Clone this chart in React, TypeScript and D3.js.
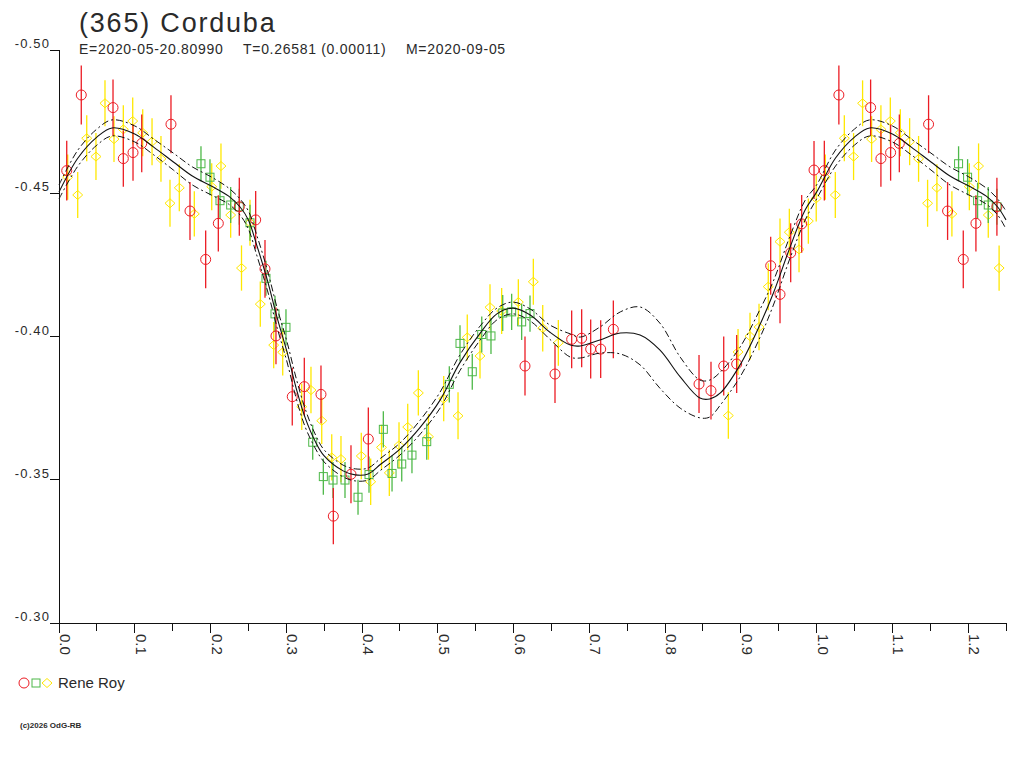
import React, { useEffect, useRef } from 'react';
import * as d3 from 'd3';

const title = '(365) Corduba';
const subtitle = ['E=2020-05-20.80990', 'T=0.26581 (0.00011)', 'M=2020-09-05'];
const observer = 'Rene Roy';
const copyright = '(c)2026 OdG-RB';

const xTicks = [0, 0.05, 0.1, 0.15, 0.2, 0.25, 0.3, 0.35, 0.4, 0.45, 0.5, 0.55, 0.6, 0.65, 0.7, 0.75, 0.8, 0.85, 0.9, 0.95, 1.0, 1.05, 1.1, 1.15, 1.2, 1.25];
const xLabels = [0.0, 0.1, 0.2, 0.3, 0.4, 0.5, 0.6, 0.7, 0.8, 0.9, 1.0, 1.1, 1.2];
const yTicks = [-0.5, -0.45, -0.4, -0.35, -0.3];

// fitted light curve (phase 0..1), with its upper / lower envelope
const fitPhase = [0.000, 0.025, 0.050, 0.070, 0.100, 0.125, 0.151, 0.176, 0.201, 0.224, 0.239, 0.250, 0.261, 0.275, 0.288, 0.301, 0.313, 0.325, 0.338, 0.350, 0.375, 0.391, 0.408, 0.425, 0.450, 0.477, 0.503, 0.529, 0.556, 0.578, 0.599, 0.622, 0.648, 0.675, 0.688, 0.714, 0.741, 0.767, 0.793, 0.820, 0.846, 0.859, 0.873, 0.899, 0.925, 0.943, 0.965, 0.985];
const fitMag = [-0.4504, -0.4623, -0.4696, -0.4728, -0.4707, -0.4661, -0.4609, -0.4560, -0.4525, -0.4490, -0.4452, -0.4407, -0.4319, -0.4197, -0.4065, -0.3946, -0.3820, -0.3716, -0.3635, -0.3583, -0.3531, -0.3517, -0.3520, -0.3555, -0.3607, -0.3684, -0.3778, -0.3908, -0.4012, -0.4079, -0.4099, -0.4075, -0.4015, -0.3970, -0.3967, -0.3988, -0.4012, -0.4005, -0.3953, -0.3859, -0.3785, -0.3782, -0.3803, -0.3901, -0.4040, -0.4152, -0.4312, -0.4442];
const fitUpper = [-0.4529, -0.4651, -0.4724, -0.4756, -0.4735, -0.4689, -0.4640, -0.4592, -0.4557, -0.4518, -0.4480, -0.4438, -0.4354, -0.4232, -0.4099, -0.3981, -0.3855, -0.3747, -0.3660, -0.3604, -0.3551, -0.3538, -0.3541, -0.3576, -0.3628, -0.3709, -0.3806, -0.3935, -0.4037, -0.4099, -0.4120, -0.4096, -0.4040, -0.4009, -0.3998, -0.4033, -0.4086, -0.4103, -0.4047, -0.3928, -0.3848, -0.3848, -0.3876, -0.3963, -0.4093, -0.4194, -0.4351, -0.4476];
const fitLower = [-0.4480, -0.4595, -0.4668, -0.4700, -0.4679, -0.4634, -0.4581, -0.4529, -0.4494, -0.4462, -0.4424, -0.4375, -0.4284, -0.4162, -0.4030, -0.3911, -0.3785, -0.3684, -0.3611, -0.3562, -0.3510, -0.3496, -0.3499, -0.3534, -0.3586, -0.3660, -0.3750, -0.3880, -0.3988, -0.4058, -0.4079, -0.4054, -0.3990, -0.3928, -0.3925, -0.3942, -0.3939, -0.3901, -0.3820, -0.3750, -0.3716, -0.3719, -0.3761, -0.3859, -0.3995, -0.4110, -0.4274, -0.4407];

// observations: [phase, magnitude, error]
const redPts: [number, number, number][] = [
  [0.0102, -0.4579, 0.0104], [0.0294, -0.4843, 0.0103], [0.0713, -0.4799, 0.0098], [0.0849, -0.4621, 0.0098],
  [0.0977, -0.4642, 0.0098], [0.1092, -0.4674, 0.0101], [0.1478, -0.4741, 0.0101], [0.1729, -0.4438, 0.0101],
  [0.1936, -0.4269, 0.0101], [0.2103, -0.4395, 0.0098], [0.2380, -0.4453, 0.0101], [0.2596, -0.4407, 0.0101],
  [0.2719, -0.4236, 0.0101], [0.2864, -0.4002, 0.0099], [0.3079, -0.3790, 0.0101], [0.3238, -0.3825, 0.0101],
  [0.3458, -0.3798, 0.0101], [0.3621, -0.3373, 0.0098], [0.3854, -0.3519, 0.0101], [0.4083, -0.3642, 0.0110],
  [0.6151, -0.3897, 0.0103], [0.6547, -0.3869, 0.0101], [0.6767, -0.3990, 0.0101], [0.6899, -0.3994, 0.0101],
  [0.7018, -0.3956, 0.0103], [0.7150, -0.3956, 0.0101], [0.7317, -0.4025, 0.0101], [0.8448, -0.3834, 0.0101],
  [0.8606, -0.3811, 0.0101], [0.8774, -0.3897, 0.0103], [0.8945, -0.3904, 0.0101], [0.9394, -0.4247, 0.0101],
  [0.9517, -0.4147, 0.0101], [0.9658, -0.4292, 0.0103], [0.9803, -0.4393, 0.0101], [0.9966, -0.4581, 0.0101],
];
const greenPts: [number, number, number][] = [
  [0.1874, -0.4603, 0.0061], [0.1993, -0.4556, 0.0063], [0.2125, -0.4474, 0.0063], [0.2266, -0.4459, 0.0063],
  [0.2380, -0.4453, 0.0063], [0.2521, -0.4397, 0.0063], [0.2732, -0.4203, 0.0061], [0.2851, -0.4079, 0.0063],
  [0.2996, -0.4032, 0.0063], [0.3349, -0.3631, 0.0061], [0.3489, -0.3511, 0.0063], [0.3617, -0.3499, 0.0063],
  [0.3775, -0.3499, 0.0063], [0.3947, -0.3439, 0.0061], [0.4092, -0.3518, 0.0063], [0.4281, -0.3676, 0.0063],
  [0.4396, -0.3522, 0.0063], [0.4524, -0.3555, 0.0061], [0.4659, -0.3586, 0.0063], [0.4854, -0.3633, 0.0063],
  [0.5152, -0.3833, 0.0063], [0.5293, -0.3976, 0.0063], [0.5455, -0.3877, 0.0063], [0.5580, -0.4007, 0.0063],
  [0.5702, -0.4002, 0.0063], [0.5857, -0.4082, 0.0063], [0.5975, -0.4086, 0.0063], [0.6107, -0.4051, 0.0063],
  [0.6217, -0.4080, 0.0063],
];
const yellowPts: [number, number, number][] = [
  [0.0115, -0.4556, 0.0079], [0.0247, -0.4494, 0.0080], [0.0366, -0.4692, 0.0080], [0.0488, -0.4628, 0.0082],
  [0.0607, -0.4814, 0.0080], [0.0726, -0.4689, 0.0080], [0.0849, -0.4723, 0.0084], [0.0973, -0.4752, 0.0082],
  [0.1105, -0.4711, 0.0082], [0.1228, -0.4680, 0.0082], [0.1346, -0.4620, 0.0080], [0.1465, -0.4465, 0.0082],
  [0.1588, -0.4519, 0.0082], [0.1786, -0.4428, 0.0079], [0.2016, -0.4523, 0.0082], [0.2138, -0.4595, 0.0079],
  [0.2266, -0.4424, 0.0079], [0.2409, -0.4239, 0.0079], [0.2521, -0.4397, 0.0080], [0.2657, -0.4113, 0.0079],
  [0.2834, -0.3970, 0.0081], [0.2953, -0.3945, 0.0081], [0.3204, -0.3755, 0.0081], [0.3326, -0.3813, 0.0081],
  [0.3468, -0.3706, 0.0081], [0.3600, -0.3578, 0.0081], [0.3722, -0.3572, 0.0081], [0.3990, -0.3583, 0.0081],
  [0.4114, -0.3493, 0.0081], [0.4257, -0.3613, 0.0079], [0.4360, -0.3524, 0.0081], [0.4488, -0.3620, 0.0081],
  [0.4603, -0.3684, 0.0081], [0.4743, -0.3803, 0.0079], [0.4877, -0.3650, 0.0080], [0.5078, -0.3783, 0.0079],
  [0.5267, -0.3723, 0.0082], [0.5389, -0.3997, 0.0080], [0.5557, -0.3932, 0.0079], [0.5689, -0.4102, 0.0080],
  [0.5843, -0.4089, 0.0080], [0.6063, -0.4120, 0.0080], [0.6261, -0.4191, 0.0080], [0.6385, -0.4029, 0.0081],
  [0.6591, -0.3978, 0.0080], [0.8835, -0.3724, 0.0081], [0.8963, -0.3946, 0.0080], [0.9121, -0.4001, 0.0082],
  [0.9240, -0.4033, 0.0081], [0.9362, -0.4174, 0.0082], [0.9517, -0.4331, 0.0081], [0.9640, -0.4364, 0.0082],
  [0.9768, -0.4304, 0.0080], [0.9891, -0.4403, 0.0079], [0.9995, -0.4482, 0.0081],
];

const RED = '#ec1c24';
const GREEN = '#4db848';
const YELLOW = '#ffe800';
const FONT = '"Liberation Sans", Arial, sans-serif';
const TEXT = '#2a2a2a';

const App: React.FC = () => {
  const chartRef = useRef<SVGSVGElement | null>(null);

  useEffect(() => {
    if (!chartRef.current) return;
    const svg = d3.select(chartRef.current);
    svg.selectAll('*').remove();

    const x = d3.scaleLinear().domain([0, 1.25]).range([59, 1006]);
    const y = d3.scaleLinear().domain([-0.5, -0.3]).range([50, 623]);

    // points folded again past phase 1.0
    const fold = (pts: [number, number, number][]) =>
      pts.concat(pts.filter(p => p[0] + 1 <= 1.25).map(p => [p[0] + 1, p[1], p[2]] as [number, number, number]));

    // titles
    svg.append('text').attr('x', 79).attr('y', 32).text(title)
      .style('font-family', FONT).style('font-size', '27px').style('letter-spacing', '1.8px').style('fill', TEXT);
    const subX = [79, 243, 406];
    subtitle.forEach((s, i) => {
      svg.append('text').attr('x', subX[i]).attr('y', 54).text(s)
        .style('font-family', FONT).style('font-size', '14px').style('letter-spacing', '0.7px').style('fill', TEXT);
    });

    // axes
    const axis = svg.append('g').attr('stroke', '#111').attr('stroke-width', 1).attr('shape-rendering', 'crispEdges');
    axis.append('line').attr('x1', x(0)).attr('x2', x(0)).attr('y1', y(-0.5)).attr('y2', y(-0.3));
    axis.append('line').attr('x1', x(0)).attr('x2', x(1.25)).attr('y1', y(-0.3)).attr('y2', y(-0.3));
    axis.selectAll('line.ytick').data(yTicks).enter().append('line')
      .attr('class', 'ytick')
      .attr('x1', x(0) - 9).attr('x2', x(0))
      .attr('y1', d => y(d)).attr('y2', d => y(d));
    axis.selectAll('line.xtick').data(xTicks).enter().append('line')
      .attr('class', 'xtick')
      .attr('x1', d => x(d)).attr('x2', d => x(d))
      .attr('y1', y(-0.3))
      .attr('y2', (d, i) => y(-0.3) + (i % 2 === 0 ? 10 : 8));

    svg.selectAll('text.ylab').data(yTicks).enter().append('text')
      .attr('class', 'ylab')
      .attr('x', x(0) - 9)
      .attr('y', d => y(d) - 2)
      .attr('text-anchor', 'end')
      .text(d => d.toFixed(2))
      .style('font-family', FONT).style('font-size', '13px').style('letter-spacing', '1.1px').style('fill', TEXT);

    svg.selectAll('text.xlab').data(xLabels).enter().append('text')
      .attr('class', 'xlab')
      .attr('transform', d => `translate(${x(d) + 1}, 634) rotate(90)`)
      .text(d => d.toFixed(1))
      .style('font-family', FONT).style('font-size', '15px').style('fill', TEXT);

    // observations
    const drawSeries = (pts: [number, number, number][], color: string, shape: 'circle' | 'square' | 'diamond') => {
      const g = svg.append('g');
      const data = fold(pts);
      g.selectAll('line').data(data).enter().append('line')
        .attr('x1', d => x(d[0])).attr('x2', d => x(d[0]))
        .attr('y1', d => y(d[1] - d[2])).attr('y2', d => y(d[1] + d[2]))
        .attr('stroke', color).attr('stroke-width', 1.3);
      if (shape === 'circle') {
        g.selectAll('circle').data(data).enter().append('circle')
          .attr('cx', d => x(d[0])).attr('cy', d => y(d[1])).attr('r', 5)
          .attr('fill', 'none').attr('stroke', color).attr('stroke-width', 1);
      } else if (shape === 'square') {
        g.selectAll('rect').data(data).enter().append('rect')
          .attr('x', d => x(d[0]) - 4).attr('y', d => y(d[1]) - 4).attr('width', 8).attr('height', 8)
          .attr('fill', 'none').attr('stroke', color).attr('stroke-width', 1);
      } else {
        g.selectAll('path').data(data).enter().append('path')
          .attr('d', d => {
            const cx = x(d[0]);
            const cy = y(d[1]);
            return `M${cx},${cy - 4.5}L${cx + 5},${cy}L${cx},${cy + 4.5}L${cx - 5},${cy}Z`;
          })
          .attr('fill', 'none').attr('stroke', color).attr('stroke-width', 1);
      }
    };
    drawSeries(yellowPts, YELLOW, 'diamond');
    drawSeries(greenPts, GREEN, 'square');
    drawSeries(redPts, RED, 'circle');

    // fit curve and envelopes
    const build = (vals: number[]) => {
      const base = fitPhase.map((p, i) => [p, vals[i]] as [number, number]);
      return base.concat(base.filter(d => d[0] <= 0.25).map(d => [d[0] + 1, d[1]] as [number, number]));
    };
    const line = d3.line<[number, number]>()
      .x(d => x(d[0]))
      .y(d => y(d[1]))
      .curve(d3.curveCatmullRom.alpha(0.5));

    svg.append('path').attr('d', line(build(fitUpper)))
      .attr('fill', 'none').attr('stroke', '#111').attr('stroke-width', 1).attr('stroke-dasharray', '7,3,2,3');
    svg.append('path').attr('d', line(build(fitLower)))
      .attr('fill', 'none').attr('stroke', '#111').attr('stroke-width', 1).attr('stroke-dasharray', '7,3,2,3');
    svg.append('path').attr('d', line(build(fitMag)))
      .attr('fill', 'none').attr('stroke', '#111').attr('stroke-width', 1.1);

    // legend
    const lg = svg.append('g');
    lg.append('circle').attr('cx', 24).attr('cy', 683).attr('r', 5)
      .attr('fill', 'none').attr('stroke', RED);
    lg.append('rect').attr('x', 32).attr('y', 679).attr('width', 8).attr('height', 8)
      .attr('fill', 'none').attr('stroke', GREEN);
    lg.append('path').attr('d', 'M47,678.5L52,683L47,687.5L42,683Z')
      .attr('fill', 'none').attr('stroke', YELLOW);
    lg.append('text').attr('x', 58).attr('y', 688).text(observer)
      .style('font-family', FONT).style('font-size', '15px').style('fill', TEXT);

    svg.append('text').attr('x', 20).attr('y', 728).text(copyright)
      .style('font-family', FONT).style('font-size', '8px').style('font-weight', 'bold').style('fill', TEXT);
  }, []);

  return (
    <svg
      ref={chartRef}
      width={1024}
      height={768}
      style={{ position: 'absolute', left: 0, top: 0, background: '#fff' }}
    />
  );
};

export default App;
